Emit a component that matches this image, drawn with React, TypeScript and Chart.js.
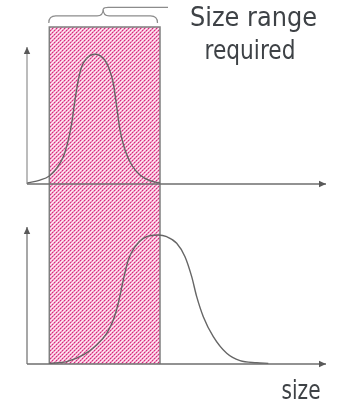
import React, { useEffect, useRef } from "react";
import { Chart, registerables } from "chart.js";

Chart.register(...registerables);

// size values (horizontal) and relative frequency for each distribution
const topSizes = [0.03, 1.3, 2.23, 2.97, 3.63, 4.13, 4.47, 4.8, 5.13, 5.47, 5.97, 6.8, 7.63, 8.13, 8.63, 8.97, 9.3, 9.8, 10.47, 11.3, 12.3, 13.3];
const topFreq = [0.008, 0.03, 0.062, 0.121, 0.21, 0.338, 0.467, 0.646, 0.8, 0.902, 0.967, 0.998, 0.967, 0.902, 0.775, 0.595, 0.415, 0.262, 0.146, 0.069, 0.025, 0.008];

const bottomSizes = [2.23, 3.97, 5.63, 6.97, 7.97, 8.63, 9.13, 9.63, 10.13, 10.8, 11.63, 13.13, 13.97, 14.97, 15.8, 16.47, 16.97, 17.63, 18.63, 19.97, 21.3, 22.97, 24.13];
const bottomFreq = [0.005, 0.018, 0.07, 0.147, 0.238, 0.341, 0.471, 0.651, 0.806, 0.909, 0.974, 1.0, 0.987, 0.936, 0.832, 0.677, 0.522, 0.367, 0.212, 0.083, 0.026, 0.01, 0.005];

// required size range (shaded band)
const sizeRange = [2.23, 13.3];

const titleLines = ["Size range", "required"];
const axisLabel = "size";

function makePattern(): CanvasPattern | string {
  const c = document.createElement("canvas");
  c.width = 8;
  c.height = 8;
  const g = c.getContext("2d");
  if (!g) return "#f0a0c8";
  for (let x = 0; x < 8; x++) {
    for (let y = 0; y < 8; y++) {
      const d = (x + y) % 4;
      let col = "#ffffff";
      if (d === 0) col = x % 2 === 0 ? "#d42a7c" : "#ec78b0";
      else if (d === 1) col = "#f29ac4";
      else if (d === 2) col = "#fdeef5";
      else col = "#f6bcd7";
      g.fillStyle = col;
      g.fillRect(x, y, 1, 1);
    }
  }
  const p = g.createPattern(c, "repeat");
  return p || "#f0a0c8";
}

function arrowLine(ctx: CanvasRenderingContext2D, x1: number, y1: number, x2: number, y2: number, lineColor: string) {
  ctx.save();
  ctx.strokeStyle = lineColor;
  ctx.lineWidth = 1.5;
  ctx.beginPath();
  ctx.moveTo(x1, y1);
  ctx.lineTo(x2, y2);
  ctx.stroke();
  const ang = Math.atan2(y2 - y1, x2 - x1);
  const L = 7;
  const W = 3.2;
  ctx.fillStyle = "#595959";
  ctx.beginPath();
  ctx.moveTo(x2, y2);
  ctx.lineTo(x2 - L * Math.cos(ang) + W * Math.sin(ang), y2 - L * Math.sin(ang) - W * Math.cos(ang));
  ctx.lineTo(x2 - L * Math.cos(ang) - W * Math.sin(ang), y2 - L * Math.sin(ang) + W * Math.cos(ang));
  ctx.closePath();
  ctx.fill();
  ctx.restore();
}

const AXIS_END = 29.9; // size at the tip of the horizontal arrows
const TOP_Y_TIP = 1.053; // frequency at the tip of the upper vertical arrow
const BOT_Y_TIP = 1.062;
const BAND_TOP = 1.208; // upper edge of band in upper-panel units
const LEADER_END = 14.1;

const diagramPlugin = {
  id: "diagram",
  beforeDatasetsDraw(chart: any) {
    const ctx: CanvasRenderingContext2D = chart.ctx;
    const xs = chart.scales.x;
    const yt = chart.scales.yTop;
    const yb = chart.scales.yBot;
    const x0 = xs.getPixelForValue(0);
    const xEnd = xs.getPixelForValue(AXIS_END);
    const xl = xs.getPixelForValue(sizeRange[0]);
    const xr = xs.getPixelForValue(sizeRange[1]);
    const bandTop = yt.getPixelForValue(BAND_TOP);
    const topBase = yt.getPixelForValue(0);
    const botBase = yb.getPixelForValue(0);

    // hatched band
    ctx.save();
    ctx.fillStyle = makePattern() as any;
    ctx.fillRect(xl, bandTop, xr - xl, botBase - bandTop);
    ctx.strokeStyle = "#7f7f7f";
    ctx.lineWidth = 1.5;
    ctx.beginPath();
    ctx.moveTo(xl, botBase);
    ctx.lineTo(xl, bandTop);
    ctx.lineTo(xr, bandTop);
    ctx.lineTo(xr, botBase);
    ctx.stroke();
    ctx.restore();

    // axes
    arrowLine(ctx, x0, topBase, x0, yt.getPixelForValue(TOP_Y_TIP), "#a6a6a6");
    arrowLine(ctx, x0, topBase, xEnd, topBase, "#6e6e6e");
    arrowLine(ctx, x0, botBase, x0, yb.getPixelForValue(BOT_Y_TIP), "#8a8a8a");
    arrowLine(ctx, x0, botBase, xEnd, botBase, "#6e6e6e");

    // brace
    const bl = xl - 0.5;
    const br = xr - 2.5;
    const bm = (bl + br) / 2;
    const yEnd = bandTop - 4;
    const yMid = bandTop - 11;
    const yTip = bandTop - 18;
    ctx.save();
    ctx.strokeStyle = "#8c8c8c";
    ctx.lineWidth = 1.2;
    ctx.beginPath();
    ctx.moveTo(bl, yEnd);
    ctx.quadraticCurveTo(bl, yMid, bl + 7, yMid);
    ctx.lineTo(bm - 6, yMid);
    ctx.quadraticCurveTo(bm, yMid, bm, yTip);
    ctx.quadraticCurveTo(bm, yMid, bm + 6, yMid);
    ctx.lineTo(br - 7, yMid);
    ctx.quadraticCurveTo(br, yMid, br, yEnd);
    ctx.stroke();
    ctx.beginPath();
    ctx.moveTo(bm, yTip);
    ctx.quadraticCurveTo(bm + 1, yTip - 1.5, bm + 5, yTip - 1.5);
    ctx.lineTo(xs.getPixelForValue(LEADER_END), yTip - 1.5);
    ctx.stroke();
    ctx.restore();
  },
  afterDraw(chart: any) {
    const ctx: CanvasRenderingContext2D = chart.ctx;
    ctx.save();
    ctx.fillStyle = "#3e4246";
    ctx.textAlign = "center";
    ctx.textBaseline = "alphabetic";
    ctx.font = '26px "DejaVu Sans", sans-serif';
    ctx.fillText(titleLines[0], 253.5, 26, 127);
    ctx.fillText(titleLines[1], 250, 59, 91);
    ctx.fillText(axisLabel, 301, 399, 39);
    ctx.restore();
  },
};

export default function App() {
  const ref = useRef<HTMLCanvasElement | null>(null);
  useEffect(() => {
    if (!ref.current) return;
    const chart = new Chart(ref.current, {
      type: "line",
      data: {
        datasets: [
          {
            data: topSizes.map((s, i) => ({ x: s, y: topFreq[i] })),
            yAxisID: "yTop",
            borderColor: "#666666",
            borderWidth: 1.4,
            pointRadius: 0,
            cubicInterpolationMode: "monotone",
            fill: false,
          },
          {
            data: bottomSizes.map((s, i) => ({ x: s, y: bottomFreq[i] })),
            yAxisID: "yBot",
            borderColor: "#666666",
            borderWidth: 1.4,
            pointRadius: 0,
            cubicInterpolationMode: "monotone",
            fill: false,
          },
        ],
      },
      options: {
        animation: false,
        responsive: false,
        layout: { padding: 0 },
        plugins: { legend: { display: false }, tooltip: { enabled: false }, title: { display: false } },
        scales: {
          x: { type: "linear", min: -2.7, max: 33.1, display: false },
          yTop: { type: "linear", min: -1.7769, max: 1.4154, display: false },
          yBot: { type: "linear", min: -0.3953, max: 2.8217, display: false },
        },
      },
      plugins: [diagramPlugin],
    } as any);
    return () => chart.destroy();
  }, []);
  return (
    <div style={{ position: "absolute", left: 0, top: 0, width: 358, height: 415, background: "#fff" }}>
      <canvas ref={ref} width={358} height={415} style={{ display: "block", width: 358, height: 415 }} />
    </div>
  );
}
